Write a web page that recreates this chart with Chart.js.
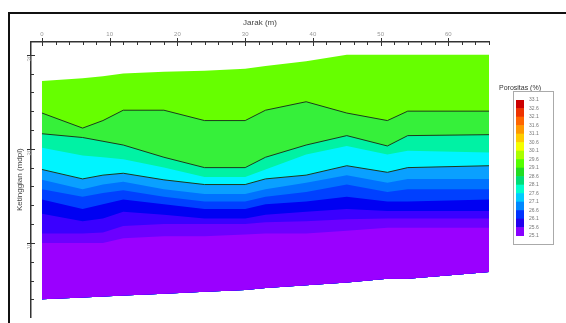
<!DOCTYPE html>
<html lang="id">
<head>
    <meta charset="UTF-8">
    <title>Porositas</title>
    <script src="https://cdn.jsdelivr.net/npm/chart.js"></script>
    <style>
        body {
            margin: 0;
            background: #fff;
            font-family: Arial, "Liberation Sans", sans-serif;
            overflow: hidden;
        }
        .frame {
            position: absolute;
            left: 8px;
            top: 12px;
            width: 600px;
            height: 400px;
            border-top: 2px solid #111;
            border-left: 2px solid #111;
        }
        #kontur { position: absolute; left: 0; top: 0; }
        .legend-title {
            position: absolute;
            left: 499px;
            top: 84px;
            font-size: 7px;
            color: #333;
            white-space: nowrap;
        }
        .legend-box {
            position: absolute;
            left: 513px;
            top: 91px;
            width: 39px;
            height: 152px;
            border: 1px solid #aaa;
        }
    </style>
</head>
<body>
    <div class="frame"></div>
    <canvas id="kontur" width="500" height="323"></canvas>
    <div class="legend-title">Porositas (%)</div>
    <div class="legend-box"><canvas id="skala" width="39" height="152"></canvas></div>

    <script>
        // jarak (m) of the sampled columns
        const jarak = [0, 6, 9, 12, 18, 24, 30, 33, 39, 45, 51, 54, 66];

        // ketinggian (mdpl) of each zone boundary, top to bottom
        const batasAtas   = [27.2, 27.5, 27.7, 28.0, 28.2, 28.3, 28.5, 28.8, 29.3, 30.0, 30.0, 30.0, 30.0];
        const kontur1     = [23.8, 22.2, 23.0, 24.1, 24.1, 23.0, 23.0, 24.1, 25.0, 23.8, 23.0, 24.0, 24.0];
        const kontur2     = [21.6, 21.2, 20.8, 20.4, 19.1, 18.0, 18.0, 19.1, 20.4, 21.4, 20.3, 21.4, 21.5];
        const kontur3     = [20.1, 19.3, 19.1, 18.9, 18.0, 17.0, 17.0, 17.8, 19.4, 20.3, 19.4, 19.8, 19.6];
        const kontur4     = [17.8, 16.8, 17.2, 17.4, 16.7, 16.2, 16.2, 16.8, 17.2, 18.2, 17.5, 18.0, 18.2];
        const kontur5     = [16.7, 15.7, 16.2, 16.5, 15.7, 15.2, 15.2, 15.7, 16.4, 17.2, 16.4, 16.8, 16.8];
        const kontur6     = [15.7, 14.9, 15.3, 15.6, 14.9, 14.4, 14.4, 14.9, 15.4, 16.2, 15.4, 15.7, 15.7];
        const kontur7     = [14.6, 13.6, 14.1, 14.6, 14.1, 13.6, 13.6, 14.1, 14.4, 14.9, 14.4, 14.4, 14.6];
        const kontur8     = [13.1, 12.3, 12.6, 13.3, 13.0, 12.6, 12.6, 13.0, 13.3, 13.6, 13.4, 13.4, 13.4];
        const kontur9     = [11.0, 11.0, 11.1, 11.8, 12.0, 12.0, 12.0, 12.2, 12.3, 12.5, 12.6, 12.6, 12.6];
        const kontur10    = [10.0, 10.0, 10.0, 10.5, 10.7, 10.7, 10.9, 11.0, 11.0, 11.3, 11.6, 11.6, 11.6];
        const batasBawah  = [4.0, 4.2, 4.3, 4.4, 4.6, 4.8, 5.0, 5.2, 5.5, 5.8, 6.2, 6.2, 6.9];

        const jarakLabels = [0, 10, 20, 30, 40, 50, 60];
        const ketinggianLabels = [10, 20, 30];
        const porositasLabels = ['33.1', '32.6', '32.1', '31.6', '31.1', '30.6', '30.1', '29.6', '29.1',
                                 '28.6', '28.1', '27.6', '27.1', '26.6', '26.1', '25.6', '25.1'];

        const batas = [batasAtas, kontur1, kontur2, kontur3, kontur4, kontur5, kontur6,
                       kontur7, kontur8, kontur9, kontur10, batasBawah];

        // colour of the zone under each boundary
        const warnaZona = ['#66ff00', '#36f03a', '#00f2a4', '#00f4ff', '#0aa0ff', '#0072ff',
                           '#0040ff', '#0000f2', '#3a00ff', '#6c00ff', '#9a00ff'];
        const garisHitam = [1, 2, 4]; // boundaries drawn as contour lines

        const bawah = batas.length - 1;
        const datasets = batas.map((vals, i) => ({
            data: vals.map((v, j) => ({ x: jarak[j], y: v })),
            order: batas.length - i,
            borderColor: garisHitam.includes(i) ? '#1c3b1c' : 'rgba(0,0,0,0)',
            borderWidth: 1,
            backgroundColor: warnaZona[i] || 'rgba(0,0,0,0)',
            fill: i < bawah ? bawah : false,
            pointRadius: 0,
            tension: 0
        }));

        // tick marks pointing into the plot, majors crossing the axis
        const tandaTick = {
            id: 'tandaTick',
            afterDraw(chart) {
                const { ctx, chartArea, scales: { x, y } } = chart;
                ctx.save();
                ctx.strokeStyle = '#333';
                ctx.lineWidth = 1;
                x.ticks.forEach(t => {
                    const px = Math.round(x.getPixelForValue(t.value)) + 0.5;
                    const major = jarakLabels.includes(t.value);
                    ctx.beginPath();
                    ctx.moveTo(px, chartArea.top - (major ? 4 : 1));
                    ctx.lineTo(px, chartArea.top + (major ? 4 : 3));
                    ctx.stroke();
                });
                y.ticks.forEach(t => {
                    const py = Math.round(y.getPixelForValue(t.value)) + 0.5;
                    const major = ketinggianLabels.includes(t.value);
                    ctx.beginPath();
                    ctx.moveTo(chartArea.left - (major ? 4 : 1), py);
                    ctx.lineTo(chartArea.left + (major ? 4 : 3), py);
                    ctx.stroke();
                });
                ctx.restore();
            }
        };

        new Chart(document.getElementById('kontur'), {
            type: 'line',
            data: { datasets },
            options: {
                responsive: false,
                animation: false,
                layout: { padding: { left: 12, top: 14, right: 11, bottom: 0 } },
                plugins: { legend: { display: false }, tooltip: { enabled: false } },
                scales: {
                    x: {
                        type: 'linear',
                        position: 'top',
                        min: -1.62,
                        max: 66,
                        afterFit: s => { s.height = 28; },
                        grid: { display: false, drawTicks: false },
                        border: { display: true, color: '#333', width: 1.5 },
                        ticks: {
                            stepSize: 2,
                            includeBounds: false,
                            autoSkip: false,
                            maxRotation: 0,
                            padding: 4,
                            color: '#999',
                            font: { size: 6 },
                            callback: v => jarakLabels.includes(v) ? String(v) : ''
                        },
                        title: {
                            display: true,
                            text: 'Jarak (m)',
                            color: '#444',
                            font: { size: 8 },
                            padding: { top: 4, bottom: 0 }
                        }
                    },
                    y: {
                        type: 'linear',
                        position: 'left',
                        min: 2.08,
                        max: 31.35,
                        afterFit: s => { s.width = 19; },
                        grid: { display: false, drawTicks: false },
                        border: { display: true, color: '#333', width: 1.5 },
                        ticks: {
                            stepSize: 2,
                            includeBounds: false,
                            autoSkip: false,
                            minRotation: 90,
                            maxRotation: 90,
                            padding: 2,
                            color: '#999',
                            font: { size: 6 },
                            callback: v => ketinggianLabels.includes(v) ? String(v) : ''
                        },
                        title: {
                            display: true,
                            text: 'Ketinggian (mdpl)',
                            color: '#444',
                            font: { size: 8 },
                            padding: { top: 3, bottom: 0 }
                        }
                    }
                }
            },
            plugins: [tandaTick]
        });

        // colour scale, top swatch first
        const warnaSkala = ['#cc0000', '#ee3300', '#ff6600', '#ff9900', '#ffcc00', '#f5ff00', '#aaff00', '#55ff00',
                            '#22dd22', '#00dd77', '#00ffcc', '#00ccff', '#0088ff', '#0033ff', '#2200ee', '#8800ff'];

        new Chart(document.getElementById('skala'), {
            type: 'bar',
            data: {
                labels: [''],
                datasets: warnaSkala.slice().reverse().map(c => ({
                    data: [1],
                    backgroundColor: c,
                    borderWidth: 0,
                    barPercentage: 1,
                    categoryPercentage: 1
                }))
            },
            options: {
                responsive: false,
                animation: false,
                layout: { padding: { left: 2, top: 3, right: 0, bottom: 4 } },
                plugins: { legend: { display: false }, tooltip: { enabled: false } },
                scales: {
                    x: { display: false, stacked: true },
                    y: {
                        stacked: true,
                        position: 'right',
                        min: 0,
                        max: warnaSkala.length,
                        afterFit: s => { s.width = 29; },
                        grid: { display: false, drawTicks: false },
                        border: { display: false },
                        ticks: {
                            stepSize: 1,
                            autoSkip: false,
                            padding: 5,
                            color: '#777',
                            font: { size: 5 },
                            callback: v => porositasLabels[warnaSkala.length - v]
                        }
                    }
                }
            }
        });
    </script>
</body>
</html>
